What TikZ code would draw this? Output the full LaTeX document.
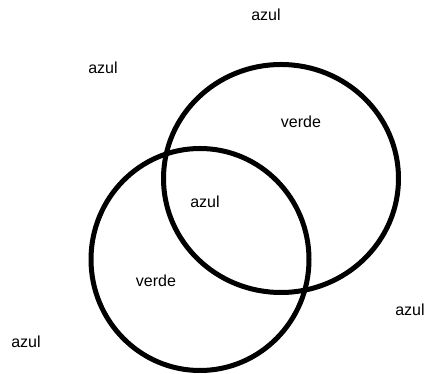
\documentclass[tikz,border=0pt]{standalone}
\usepackage{fontspec}
\setmainfont{Liberation Sans}
\usetikzlibrary{positioning}

\begin{document}
\begin{tikzpicture}[
  x=1pt, y=1pt,
  ring/.style={draw, line width=5pt},
  lbl/.style={inner sep=0pt, font=\fontsize{16}{18}\selectfont},
]
  \useasboundingbox (0,0) rectangle (426,374);

  % Circles
  \draw[ring] (281,195.5) ellipse [x radius=117.5, y radius=114];
  \draw[ring] (200,114.5) ellipse [x radius=109, y radius=111];

  % Outside labels
  \node[lbl] (azultop) at (266,359) {azul};
  \node[lbl] (azulleft) at (103,306) {azul};
  \node[lbl] (azulright) at (410,64) {azul};
  \node[lbl] (azulbottom) at (26,32) {azul};

  % Inside labels
  \node[lbl] (verdeup) at (301,252) {verde};
  \node[lbl] (azulmid) at (205,172) {azul};
  \node[lbl] (verdelow) at (156,93) {verde};
\end{tikzpicture}
\end{document}
